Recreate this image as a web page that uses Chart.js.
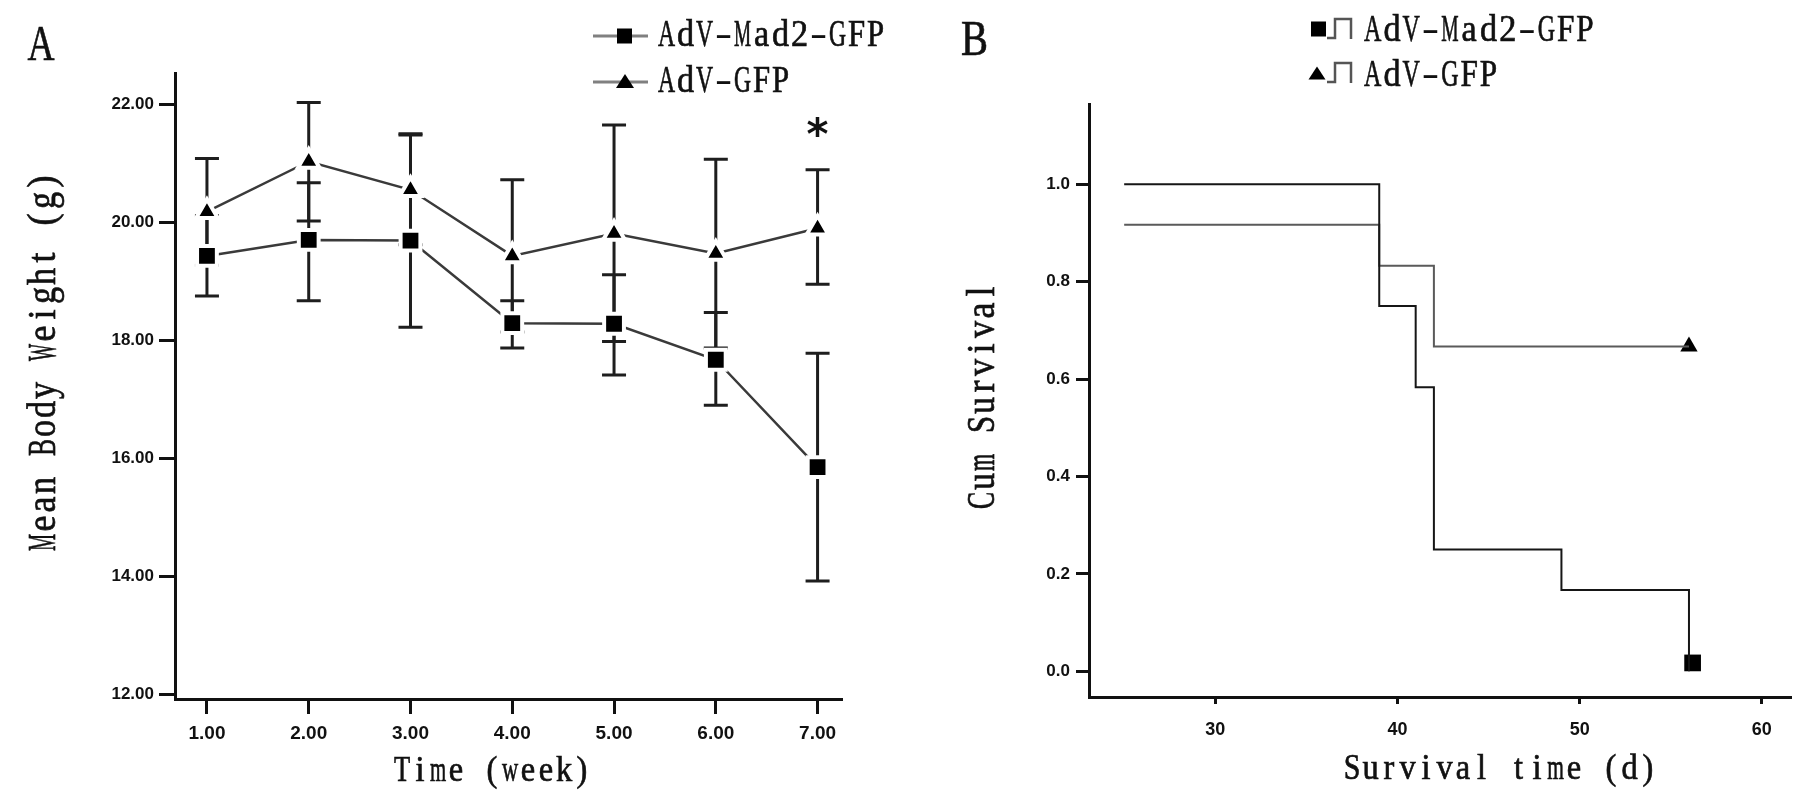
<!DOCTYPE html>
<html lang="en">
<head>
  <meta charset="UTF-8">
  <title>Body weight and survival - AdV-Mad2-GFP vs AdV-GFP</title>
  <script src="https://cdn.jsdelivr.net/npm/chart.js"></script>
  <style>
    html, body {
      margin: 0;
      padding: 0;
      background: #fff;
    }
    #wrap {
      position: relative;
      width: 1819px;
      height: 796px;
      overflow: hidden;
    }
    .panel {
      position: absolute;
      top: 0;
      height: 796px;
    }
    #panelA { left: 0; width: 900px; }
    #panelB { left: 900px; width: 919px; }
  </style>
</head>
<body>
  <div id="wrap">
    <div class="panel" id="panelA"><canvas id="weightChart"></canvas></div>
    <div class="panel" id="panelB"><canvas id="survivalChart"></canvas></div>
  </div>

  <script>
    // ---- data ----
    const seriesNames = ['AdV-Mad2-GFP', 'AdV-GFP'];

    // panel A: mean body weight (g) per week, with error bar ends
    const weeks = [1, 2, 3, 4, 5, 6, 7];
    const mad2Mean = [19.43, 19.70, 19.69, 18.29, 18.28, 17.67, 15.85];
    const mad2Low  = [18.75, 18.67, 18.22, 17.87, 17.41, 16.90, 13.92];
    const mad2High = [20.11, 20.67, 21.48, 18.67, 19.11, 18.47, 17.78];
    const gfpMean  = [20.18, 21.03, 20.55, 19.43, 19.81, 19.47, 19.90];
    const gfpLow   = [19.27, 20.02, 19.62, 18.14, 17.98, 17.87, 18.95];
    const gfpHigh  = [21.08, 22.03, 21.50, 20.72, 21.65, 21.07, 20.89];
    const weekTicks = [1, 2, 3, 4, 5, 6, 7];
    const weightTicks = [12, 14, 16, 18, 20, 22];
    const significantWeek = 7;

    // panel B: Kaplan-Meier steps (time in days, cumulative survival)
    const mad2Time = [25, 39, 41, 42, 49, 56];
    const mad2Surv = [1.0, 0.75, 0.583, 0.25, 0.167, 0.0];
    const gfpTime  = [25, 39, 42, 56];
    const gfpSurv  = [0.917, 0.833, 0.667, 0.667];
    const mad2CensorTime = [56.2];
    const mad2CensorSurv = [0.017];
    const gfpCensorTime  = [56.0];
    const gfpCensorSurv  = [0.667];
    const dayTicks = [30, 40, 50, 60];
    const survTicks = [0, 0.2, 0.4, 0.6, 0.8, 1.0];

    const toPoints = (xs, ys) => xs.map((v, i) => ({ x: v, y: ys[i] }));

    // ---- text helpers: narrow serif on a fixed advance (like SimSun latin) ----
    const SERIF = '"Liberation Serif", "DejaVu Serif", serif';

    function monoText(ctx, str, x, y, size, cell) {
      ctx.font = size + 'px ' + SERIF;
      ctx.textAlign = 'center';
      ctx.textBaseline = 'alphabetic';
      ctx.lineWidth = 0.7;
      ctx.strokeStyle = ctx.fillStyle;
      for (let i = 0; i < str.length; i++) {
        const ch = str[i];
        if (ch === ' ') continue;
        const w = ctx.measureText(ch).width || 1;
        // squeeze wide glyphs into the cell, stretch the hyphen like the original
        let sx = Math.min(0.9, cell * 0.9 / w);
        if (ch === '-') sx = cell * 0.9 / w;
        ctx.save();
        ctx.translate(x + cell * (i + 0.5), y);
        ctx.scale(sx, 1);
        ctx.fillText(ch, 0, 0);
        if (ch !== '-') ctx.strokeText(ch, 0, 0);
        ctx.restore();
      }
    }

    function monoTextCentered(ctx, str, cx, y, size, cell) {
      monoText(ctx, str, cx - cell * str.length / 2, y, size, cell);
    }

    function monoTextVertical(ctx, str, baselineX, cy, size, cell) {
      ctx.save();
      ctx.translate(baselineX, cy);
      ctx.rotate(-Math.PI / 2);
      monoTextCentered(ctx, str, 0, 0, size, cell);
      ctx.restore();
    }

    function triangle(ctx, cx, cy, w, h) {
      ctx.beginPath();
      ctx.moveTo(cx, cy - h / 2);
      ctx.lineTo(cx + w / 2, cy + h / 2);
      ctx.lineTo(cx - w / 2, cy + h / 2);
      ctx.closePath();
    }

    const tickFont = (size) => ({ family: '"Liberation Sans", Arial, sans-serif', size: size, weight: 'bold' });

    // ---- panel A ----
    const errorBars = {
      id: 'errorBars',
      beforeDatasetsDraw(chart) {
        const { ctx, scales: { x, y } } = chart;
        ctx.save();
        ctx.strokeStyle = '#1e1e1e';
        ctx.lineWidth = 3;
        [[mad2Low, mad2High], [gfpLow, gfpHigh]].forEach(([lo, hi]) => {
          weeks.forEach((w, i) => {
            const px = x.getPixelForValue(w);
            const y1 = y.getPixelForValue(lo[i]);
            const y2 = y.getPixelForValue(hi[i]);
            ctx.beginPath();
            ctx.moveTo(px, y1); ctx.lineTo(px, y2);
            ctx.moveTo(px - 12, y1); ctx.lineTo(px + 12, y1);
            ctx.moveTo(px - 12, y2); ctx.lineTo(px + 12, y2);
            ctx.stroke();
          });
        });
        ctx.restore();
      }
    };

    const decorA = {
      id: 'decorA',
      afterDraw(chart) {
        const { ctx, scales: { x, y } } = chart;
        ctx.save();
        ctx.fillStyle = '#111';

        // panel letter
        monoTextCentered(ctx, 'A', 41, 60, 50, 30);

        // axis titles
        monoTextVertical(ctx, 'Mean Body Weight (g)', 55, 362, 40, 19);
        monoTextCentered(ctx, 'Time (week)', 492, 781, 36, 18);

        // legend
        const rows = [{ y: 36, base: 46 }, { y: 82, base: 92 }];
        rows.forEach((r, i) => {
          ctx.strokeStyle = '#808080';
          ctx.lineWidth = 3;
          ctx.beginPath();
          ctx.moveTo(593, r.y); ctx.lineTo(648, r.y);
          ctx.stroke();
          ctx.fillStyle = '#000';
          if (i === 0) {
            ctx.fillRect(617, r.y - 7.5, 15, 15);
          } else {
            triangle(ctx, 625, r.y - 1, 18, 14);
            ctx.fill();
          }
          ctx.fillStyle = '#111';
          monoText(ctx, seriesNames[i], 657, r.base, 38, 19);
        });

        // significance mark
        const sx = x.getPixelForValue(significantWeek);
        const sy = y.getPixelForValue(gfpHigh[weeks.indexOf(significantWeek)]) - 44;
        ctx.font = 'bold 42px "DejaVu Sans", sans-serif';
        ctx.textAlign = 'center';
        ctx.textBaseline = 'alphabetic';
        ctx.fillText('*', sx, sy + 0.56 * 42);
        ctx.restore();
      }
    };

    new Chart(document.getElementById('weightChart'), {
      type: 'line',
      data: {
        datasets: [
          {
            label: seriesNames[0],
            data: toPoints(weeks, mad2Mean),
            borderColor: '#3a3a3a',
            borderWidth: 2.5,
            pointStyle: 'rect',
            pointRadius: 14,
            pointBackgroundColor: '#000',
            pointBorderColor: '#fff',
            pointBorderWidth: 4,
            tension: 0
          },
          {
            label: seriesNames[1],
            data: toPoints(weeks, gfpMean),
            borderColor: '#3a3a3a',
            borderWidth: 2.5,
            pointStyle: 'triangle',
            pointRadius: 12.5,
            pointBackgroundColor: '#000',
            pointBorderColor: '#fff',
            pointBorderWidth: 4,
            tension: 0
          }
        ]
      },
      options: {
        animation: false,
        responsive: true,
        maintainAspectRatio: false,
        layout: { padding: { left: 75, right: 58, top: 73, bottom: 37 } },
        plugins: { legend: { display: false }, tooltip: { enabled: false } },
        scales: {
          x: {
            type: 'linear',
            min: 0.686,
            max: 7.24,
            afterBuildTicks: s => { s.ticks = weekTicks.map(v => ({ value: v })); },
            afterFit: s => { s.height = 60; },
            ticks: {
              callback: v => v.toFixed(2),
              font: tickFont(19),
              color: '#111',
              padding: 8,
              maxRotation: 0,
              autoSkip: false
            },
            grid: { drawOnChartArea: false, tickLength: 15, tickWidth: 3, tickColor: '#111' },
            border: { color: '#111', width: 3 }
          },
          y: {
            type: 'linear',
            min: 11.92,
            max: 22.53,
            afterBuildTicks: s => { s.ticks = weightTicks.map(v => ({ value: v })); },
            afterFit: s => { s.width = 100; },
            ticks: {
              callback: v => v.toFixed(2),
              font: tickFont(17),
              color: '#111',
              padding: 5
            },
            grid: { drawOnChartArea: false, tickLength: 16, tickWidth: 3, tickColor: '#111' },
            border: { color: '#111', width: 3 }
          }
        }
      },
      plugins: [errorBars, decorA]
    });

    // ---- panel B ----
    const decorB = {
      id: 'decorB',
      afterDraw(chart) {
        const { ctx } = chart;
        ctx.save();
        ctx.fillStyle = '#111';

        monoTextCentered(ctx, 'B', 74.5, 55, 50, 30);

        monoTextVertical(ctx, 'Cum Survival', 94, 396, 40, 19);
        monoTextCentered(ctx, 'Survival time (d)', 600, 779, 36, 18.5);

        // legend: marker + step glyph + name
        const rows = [{ cy: 29, top: 19, bot: 38, base: 41 }, { cy: 73, top: 63, bot: 82, base: 86 }];
        rows.forEach((r, i) => {
          ctx.fillStyle = '#000';
          if (i === 0) {
            ctx.fillRect(411, r.cy - 7.5, 15, 15);
          } else {
            triangle(ctx, 417, r.cy, 17, 13);
            ctx.fill();
          }
          ctx.strokeStyle = '#555';
          ctx.lineWidth = 2.5;
          ctx.beginPath();
          ctx.moveTo(427, r.bot);
          ctx.lineTo(435, r.bot);
          ctx.lineTo(435, r.top);
          ctx.lineTo(451, r.top);
          ctx.lineTo(451, r.bot + 1);
          ctx.stroke();
          ctx.fillStyle = '#111';
          monoText(ctx, seriesNames[i], 463, r.base, 38, 19.3);
        });
        ctx.restore();
      }
    };

    new Chart(document.getElementById('survivalChart'), {
      type: 'line',
      data: {
        datasets: [
          {
            label: seriesNames[0],
            data: toPoints(mad2Time, mad2Surv),
            stepped: true,
            borderColor: '#161616',
            borderWidth: 2,
            pointRadius: 0
          },
          {
            label: seriesNames[1],
            data: toPoints(gfpTime, gfpSurv),
            stepped: true,
            borderColor: '#5a5a5a',
            borderWidth: 2,
            pointRadius: 0
          },
          {
            label: seriesNames[0] + ' censored',
            data: toPoints(mad2CensorTime, mad2CensorSurv),
            showLine: false,
            pointStyle: 'rect',
            pointRadius: 11.8,
            pointBackgroundColor: '#000',
            pointBorderWidth: 0
          },
          {
            label: seriesNames[1] + ' censored',
            data: toPoints(gfpCensorTime, gfpCensorSurv),
            showLine: false,
            pointStyle: 'triangle',
            pointRadius: 10,
            pointBackgroundColor: '#000',
            pointBorderWidth: 0
          }
        ]
      },
      options: {
        animation: false,
        responsive: true,
        maintainAspectRatio: false,
        layout: { padding: { left: 89, right: 28, top: 104, bottom: 39 } },
        plugins: { legend: { display: false }, tooltip: { enabled: false } },
        scales: {
          x: {
            type: 'linear',
            min: 23.07,
            max: 61.6,
            afterBuildTicks: s => { s.ticks = dayTicks.map(v => ({ value: v })); },
            afterFit: s => { s.height = 60; },
            ticks: {
              callback: v => String(v),
              font: tickFont(18),
              color: '#111',
              padding: 15,
              maxRotation: 0,
              autoSkip: false
            },
            grid: { drawOnChartArea: false, tickLength: 7, tickWidth: 3, tickColor: '#111' },
            border: { color: '#111', width: 3 }
          },
          y: {
            type: 'linear',
            min: -0.053,
            max: 1.165,
            afterBuildTicks: s => { s.ticks = survTicks.map(v => ({ value: v })); },
            afterFit: s => { s.width = 100; },
            ticks: {
              callback: v => v.toFixed(1),
              font: tickFont(17),
              color: '#111',
              padding: 6
            },
            grid: { drawOnChartArea: false, tickLength: 13, tickWidth: 3, tickColor: '#111' },
            border: { color: '#111', width: 3 }
          }
        }
      },
      plugins: [decorB]
    });
  </script>
</body>
</html>
